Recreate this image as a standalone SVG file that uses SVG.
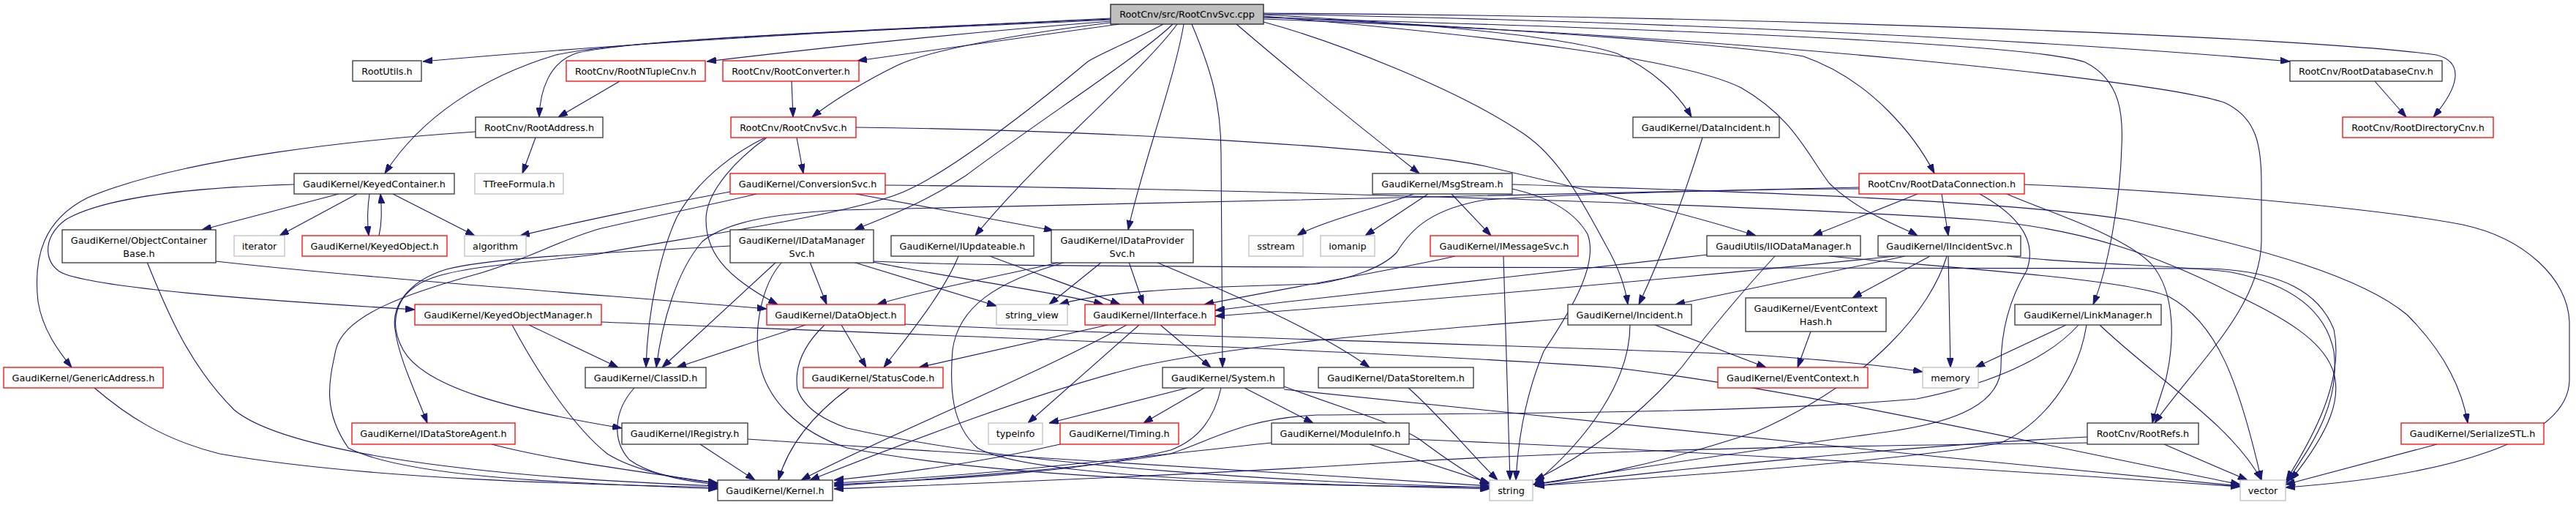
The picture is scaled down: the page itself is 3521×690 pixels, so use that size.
<svg xmlns="http://www.w3.org/2000/svg" width="3521" height="690" viewBox="0 0 3521 690">
<style>
.n rect{fill:#fff;stroke:#333;stroke-width:1.3}
.n.r rect{stroke:#f00}
.n.g rect{stroke:#bfbfbf}
.n.m rect{fill:#bfbfbf;stroke:#222}
.n text{font-family:"DejaVu Sans",sans-serif;font-size:12.8px;fill:#000;text-anchor:middle}
#edges path{fill:none;stroke:#191970;stroke-width:1.1;marker-end:url(#a)}
</style>
<defs>
<marker id="a" markerUnits="userSpaceOnUse" viewBox="0 0 13 9" markerWidth="13" markerHeight="9" refX="13" refY="4.5" orient="auto">
<path d="M0,0 L13,4.5 L0,9 z" fill="#191970" stroke="#191970" stroke-width="1"/>
</marker>
</defs>
<rect width="3521" height="690" fill="#fff"/>
<g id="edges">
<path d="M1518,25 C1250,38 900,55 578,84"/>
<path d="M1518,26 C1250,38 880,52 790,72 C750,84 738,125 737,160"/>
<path d="M1518,27 C1250,40 860,52 760,75 C660,105 575,160 526,237"/>
<path d="M1518,29 C1350,42 1150,62 966,84"/>
<path d="M1530,33 L1172,83"/>
<path d="M1518,31 C1400,45 1270,68 1225,90 C1180,112 1135,140 1110,160"/>
<path d="M1590,33 C1550,55 1510,70 1487,84 C1420,140 1300,235 1233,263 C1150,297 900,330 818,347 C740,358 640,362 590,380 C540,398 530,440 551,478 C580,530 700,560 850,585"/>
<path d="M1603,33 C1560,75 1420,165 1320,240 C1250,285 1200,300 1168,314"/>
<path d="M1609,33 C1560,100 1420,215 1333,322"/>
<path d="M1618,33 C1605,110 1560,230 1542,314"/>
<path d="M1629,33 C1655,95 1669,140 1669,210 L1671,502"/>
<path d="M1690,33 C1780,110 1880,190 1940,237"/>
<path d="M1727,20 C1900,30 2120,45 2210,73 C2260,95 2295,130 2312,160"/>
<path d="M1727,30 C1820,55 1990,120 2083,183 C2130,215 2160,270 2195,335 C2215,370 2222,395 2225,416"/>
<path d="M1727,22 C2050,50 2300,80 2380,120 C2450,160 2470,210 2500,250 C2540,290 2600,310 2621,322"/>
<path d="M1727,23 C2100,40 2400,65 2465,77 C2560,110 2620,190 2644,237"/>
<path d="M1727,19 C2300,30 2800,55 3130,84"/>
<path d="M1727,18 C2400,22 3150,50 3330,75 C3370,85 3360,120 3326,160"/>
<path d="M1727,24 C2300,40 2780,60 2850,85 C2900,110 2902,160 2900,200 C2898,280 2880,370 2861,416"/>
<path d="M1727,26 C2400,50 2950,110 3040,140 C3085,160 3091,200 3091,250 L3091,330 C3090,420 3000,500 2945,578"/>
<path d="M847,111 L763,160"/>
<path d="M1082,111 L1084,160"/>
<path d="M732,188 L714,237"/>
<path d="M650,180 C500,190 250,215 120,270 C60,300 45,350 52,412 C58,450 80,480 98,502"/>
<path d="M1089,188 L1098,237"/>
<path d="M1170,174 C1500,178 1900,200 2030,227 C2150,255 2300,290 2400,322"/>
<path d="M1046,188 C1000,210 950,250 925,297 C905,340 885,420 883,502"/>
<path d="M1048,188 C1010,215 965,260 965,300 C965,340 985,375 1063,416"/>
<path d="M463,265 L276,314"/>
<path d="M488,265 L382,322"/>
<path d="M505,265 C502,285 502,305 504,322"/>
<path d="M518,322 C522,305 522,285 520,265"/>
<path d="M537,265 L649,322"/>
<path d="M402,252 C300,255 150,265 90,300 C55,325 60,365 90,375 C150,395 350,410 567,423"/>
<path d="M998,262 C900,280 780,305 711,322"/>
<path d="M1170,265 L1440,315"/>
<path d="M1210,253 C1700,258 2400,280 2700,300 C2850,312 2950,350 3050,400 C3200,470 3240,520 3131,656"/>
<path d="M1034,265 C950,285 870,300 818,313 C760,330 720,355 650,375 C560,400 470,430 459,478 C450,520 440,560 476,612 C560,655 800,660 981,668"/>
<path d="M998,336 C850,345 680,350 610,368 C555,385 535,420 540,450 C545,490 570,540 584,578"/>
<path d="M2541,256 C2200,262 1700,275 1150,287 C1050,292 990,305 960,330 C925,370 905,440 897,502"/>
<path d="M295,357 C500,380 850,405 1048,422"/>
<path d="M201,358 C230,430 260,500 320,560 C380,610 600,650 981,664"/>
<path d="M129,530 C170,565 220,600 300,620 C500,655 800,662 981,666"/>
<path d="M672,607 C760,630 880,645 981,660"/>
<path d="M723,444 L845,502"/>
<path d="M700,444 C730,500 780,580 830,620 C870,645 930,655 981,660"/>
<path d="M822,440 C1200,455 1900,480 2202,502 C2450,530 2800,610 3062,662"/>
<path d="M867,530 C840,560 835,600 860,628 C890,650 940,658 981,662"/>
<path d="M1061,358 L905,502"/>
<path d="M1069,358 C1040,390 1030,450 1038,495 C1048,545 1090,590 1158,612 C1400,660 1800,663 2036,666"/>
<path d="M1107,358 L1130,416"/>
<path d="M1166,358 L1362,418"/>
<path d="M1193,358 C1300,380 1450,400 1508,416"/>
<path d="M1310,350 C1290,400 1240,460 1208,502"/>
<path d="M1353,350 C1420,375 1490,400 1531,416"/>
<path d="M1451,358 C1350,380 1250,400 1199,416"/>
<path d="M1457,358 C1360,385 1310,420 1302,478 C1298,530 1300,580 1336,612 C1400,650 1700,660 2036,668"/>
<path d="M1506,358 L1434,416"/>
<path d="M1543,358 L1563,416"/>
<path d="M1580,358 C1680,400 1800,450 1872,502"/>
<path d="M1194,357 C1300,362 1400,363 1800,365 C2300,366 2700,366 3022,367 C3120,371 3170,400 3190,450 C3205,520 3160,600 3125,656"/>
<path d="M1101,444 L925,502"/>
<path d="M1127,444 C1100,470 1085,500 1090,532 C1100,560 1130,575 1158,585 C1400,640 1800,660 2036,666"/>
<path d="M1150,444 L1184,502"/>
<path d="M1237,443 C1600,460 2100,472 2400,485 C2500,492 2580,500 2628,508"/>
<path d="M1161,530 C1120,560 1080,600 1064,656"/>
<path d="M1514,444 L1256,502"/>
<path d="M1540,444 C1400,520 1200,600 1095,656"/>
<path d="M1557,444 L1405,578"/>
<path d="M1586,444 L1655,502"/>
<path d="M1989,350 C1900,370 1750,395 1646,416"/>
<path d="M2334,348 C2150,370 1900,395 1661,424"/>
<path d="M2590,350 C2300,380 1950,410 1661,432"/>
<path d="M1623,530 L1434,578"/>
<path d="M1646,530 L1563,578"/>
<path d="M1669,530 C1660,570 1640,600 1600,615 C1480,645 1300,655 1140,662"/>
<path d="M1701,530 L1795,578"/>
<path d="M1755,528 C1840,560 1900,575 1940,600 C1980,630 2010,650 2036,662"/>
<path d="M1755,532 C2000,560 2600,620 3062,664"/>
<path d="M1449,607 C1350,630 1250,645 1140,656"/>
<path d="M1738,605 C1550,625 1350,650 1140,660"/>
<path d="M1872,607 L2036,660"/>
<path d="M1926,600 C2300,615 2700,640 3062,665"/>
<path d="M1925,530 C1970,570 2010,620 2047,656"/>
<path d="M1952,265 L1866,322"/>
<path d="M1932,265 C1880,285 1800,305 1773,322"/>
<path d="M1984,265 L2038,322"/>
<path d="M2067,258 C2110,268 2150,285 2170,320 C2185,360 2150,420 2110,480 C2085,540 2075,600 2072,656"/>
<path d="M2067,252 C2400,262 2750,275 2907,300 C3100,340 3230,380 3290,430 C3340,480 3365,530 3373,578"/>
<path d="M2055,350 L2064,656"/>
<path d="M2327,188 C2305,260 2280,330 2240,416"/>
<path d="M2228,444 C2228,520 2170,600 2098,660"/>
<path d="M2262,444 L2414,502"/>
<path d="M2143,435 C1900,455 1700,470 1560,500 C1400,540 1200,620 1107,656"/>
<path d="M2621,265 L2478,322"/>
<path d="M2654,265 L2663,322"/>
<path d="M2743,265 C2800,290 2900,320 2940,360 C2975,400 2972,470 2960,520 C2950,550 2945,565 2942,578"/>
<path d="M2706,265 C2760,295 2785,330 2770,370 C2740,420 2735,470 2735,500 C2735,560 2650,580 2580,590 C2400,615 2200,645 2095,662"/>
<path d="M2767,252 C3000,262 3250,285 3366,307 C3450,325 3510,380 3512,440 L3512,520 C3510,600 3350,650 3124,666"/>
<path d="M2541,258 C2400,258 2150,265 2030,273 C1960,285 1930,310 1909,345 C1890,365 1850,380 1800,388 C1600,393 1500,400 1448,416"/>
<path d="M2426,350 C2380,400 2330,460 2300,500 C2240,570 2170,620 2098,656"/>
<path d="M2500,350 C2650,365 2900,380 2964,405 C3030,440 3060,520 3091,656"/>
<path d="M2604,350 L2290,416"/>
<path d="M2638,350 L2532,407"/>
<path d="M2663,350 L2666,502"/>
<path d="M2661,350 C2640,420 2560,520 2400,590 C2250,640 2150,655 2098,662"/>
<path d="M2743,350 C2850,362 2980,362 3050,372 C3140,390 3180,430 3190,480 C3200,560 3150,620 3125,660"/>
<path d="M2475,453 L2457,502"/>
<path d="M2824,444 L2700,502"/>
<path d="M2841,444 C2800,490 2720,525 2620,545 C2400,565 2000,565 1800,567 C1700,572 1660,600 1600,620 C1450,645 1250,655 1140,664"/>
<path d="M2852,444 C2840,520 2790,580 2735,605 C2600,630 2300,650 2098,664"/>
<path d="M2870,444 C2950,520 3050,580 3091,656"/>
<path d="M2958,607 L3072,656"/>
<path d="M2853,597 C2600,610 2300,640 2098,664"/>
<path d="M2853,605 C2500,610 2202,612 1800,638 C1500,655 1300,662 1140,668"/>
<path d="M3331,607 L3124,662"/>
<path d="M3246,111 L3289,160"/>
<path d="M957,607 L1032,656"/>
<path d="M1022,600 C1400,625 1800,650 2036,664"/>
</g>
<g id="n_main" class="n m"><rect x="1518" y="6" width="209" height="27"/><text x="1622.5" y="24">RootCnv/src/RootCnvSvc.cpp</text></g>
<g id="n_rootutils" class="n"><rect x="482" y="83" width="94" height="28"/><text x="529" y="101.5">RootUtils.h</text></g>
<g id="n_ntuplecnv" class="n r"><rect x="774" y="83" width="190" height="28"/><text x="869" y="101.5">RootCnv/RootNTupleCnv.h</text></g>
<g id="n_converter" class="n r"><rect x="988" y="83" width="186" height="28"/><text x="1081" y="101.5">RootCnv/RootConverter.h</text></g>
<g id="n_databasecnv" class="n"><rect x="3130" y="83" width="208" height="28"/><text x="3234" y="101.5">RootCnv/RootDatabaseCnv.h</text></g>
<g id="n_rootaddress" class="n"><rect x="650" y="160" width="174" height="28"/><text x="737" y="178.5">RootCnv/RootAddress.h</text></g>
<g id="n_rootcnvsvc" class="n r"><rect x="999" y="160" width="171" height="28"/><text x="1084.5" y="178.5">RootCnv/RootCnvSvc.h</text></g>
<g id="n_dataincident" class="n"><rect x="2232" y="160" width="200" height="28"/><text x="2332" y="178.5">GaudiKernel/DataIncident.h</text></g>
<g id="n_directorycnv" class="n r"><rect x="3202" y="160" width="206" height="28"/><text x="3305" y="178.5">RootCnv/RootDirectoryCnv.h</text></g>
<g id="n_keyedcontainer" class="n"><rect x="402" y="237" width="219" height="28"/><text x="511.5" y="255.5">GaudiKernel/KeyedContainer.h</text></g>
<g id="n_ttreeformula" class="n g"><rect x="649" y="237" width="121" height="28"/><text x="709.5" y="255.5">TTreeFormula.h</text></g>
<g id="n_conversionsvc" class="n r"><rect x="998" y="237" width="212" height="28"/><text x="1104" y="255.5">GaudiKernel/ConversionSvc.h</text></g>
<g id="n_msgstream" class="n"><rect x="1876" y="237" width="191" height="28"/><text x="1971.5" y="255.5">GaudiKernel/MsgStream.h</text></g>
<g id="n_dataconnection" class="n r"><rect x="2541" y="237" width="226" height="28"/><text x="2654" y="255.5">RootCnv/RootDataConnection.h</text></g>
<g id="n_objcontainerbase" class="n"><rect x="85" y="314" width="210" height="45"/><text x="190" y="333">GaudiKernel/ObjectContainer</text><text x="190" y="350.5">Base.h</text></g>
<g id="n_iterator" class="n g"><rect x="320" y="322" width="69" height="28"/><text x="354.5" y="340.5">iterator</text></g>
<g id="n_keyedobject" class="n r"><rect x="413" y="322" width="198" height="28"/><text x="512" y="340.5">GaudiKernel/KeyedObject.h</text></g>
<g id="n_algorithm" class="n g"><rect x="635" y="322" width="84" height="28"/><text x="677" y="340.5">algorithm</text></g>
<g id="n_idatamanagersvc" class="n"><rect x="998" y="314" width="196" height="45"/><text x="1096" y="333">GaudiKernel/IDataManager</text><text x="1096" y="350.5">Svc.h</text></g>
<g id="n_iupdateable" class="n"><rect x="1218" y="322" width="195" height="28"/><text x="1315.5" y="340.5">GaudiKernel/IUpdateable.h</text></g>
<g id="n_idataprovidersvc" class="n"><rect x="1437" y="314" width="194" height="45"/><text x="1534" y="333">GaudiKernel/IDataProvider</text><text x="1534" y="350.5">Svc.h</text></g>
<g id="n_sstream" class="n g"><rect x="1707" y="322" width="74" height="28"/><text x="1744" y="340.5">sstream</text></g>
<g id="n_iomanip" class="n g"><rect x="1805" y="322" width="74" height="28"/><text x="1842" y="340.5">iomanip</text></g>
<g id="n_imessagesvc" class="n r"><rect x="1955" y="322" width="202" height="28"/><text x="2056" y="340.5">GaudiKernel/IMessageSvc.h</text></g>
<g id="n_iiodatamanager" class="n"><rect x="2333" y="322" width="210" height="28"/><text x="2438" y="340.5">GaudiUtils/IIODataManager.h</text></g>
<g id="n_iincidentsvc" class="n"><rect x="2567" y="322" width="195" height="28"/><text x="2664.5" y="340.5">GaudiKernel/IIncidentSvc.h</text></g>
<g id="n_keyedobjectmanager" class="n r"><rect x="567" y="416" width="255" height="28"/><text x="694.5" y="434.5">GaudiKernel/KeyedObjectManager.h</text></g>
<g id="n_dataobject" class="n r"><rect x="1048" y="416" width="189" height="28"/><text x="1142.5" y="434.5">GaudiKernel/DataObject.h</text></g>
<g id="n_string_view" class="n g"><rect x="1362" y="416" width="97" height="28"/><text x="1410.5" y="434.5">string_view</text></g>
<g id="n_iinterface" class="n r"><rect x="1483" y="416" width="178" height="28"/><text x="1572" y="434.5">GaudiKernel/IInterface.h</text></g>
<g id="n_incident" class="n"><rect x="2143" y="416" width="169" height="28"/><text x="2227.5" y="434.5">GaudiKernel/Incident.h</text></g>
<g id="n_eventcontexthash" class="n"><rect x="2386" y="407" width="192" height="46"/><text x="2482" y="426">GaudiKernel/EventContext</text><text x="2482" y="443.5">Hash.h</text></g>
<g id="n_linkmanager" class="n"><rect x="2754" y="416" width="200" height="28"/><text x="2854" y="434.5">GaudiKernel/LinkManager.h</text></g>
<g id="n_genericaddress" class="n r"><rect x="5" y="502" width="218" height="28"/><text x="114" y="520.5">GaudiKernel/GenericAddress.h</text></g>
<g id="n_classid" class="n"><rect x="800" y="502" width="165" height="28"/><text x="882.5" y="520.5">GaudiKernel/ClassID.h</text></g>
<g id="n_statuscode" class="n r"><rect x="1098" y="502" width="191" height="28"/><text x="1193.5" y="520.5">GaudiKernel/StatusCode.h</text></g>
<g id="n_system" class="n"><rect x="1589" y="502" width="166" height="28"/><text x="1672" y="520.5">GaudiKernel/System.h</text></g>
<g id="n_datastoreitem" class="n"><rect x="1802" y="502" width="212" height="28"/><text x="1908" y="520.5">GaudiKernel/DataStoreItem.h</text></g>
<g id="n_eventcontext" class="n r"><rect x="2348" y="502" width="205" height="28"/><text x="2450.5" y="520.5">GaudiKernel/EventContext.h</text></g>
<g id="n_memory" class="n g"><rect x="2628" y="502" width="76" height="28"/><text x="2666" y="520.5">memory</text></g>
<g id="n_idatastoreagent" class="n r"><rect x="481" y="578" width="223" height="29"/><text x="592.5" y="597">GaudiKernel/IDataStoreAgent.h</text></g>
<g id="n_iregistry" class="n"><rect x="850" y="578" width="172" height="29"/><text x="936" y="597">GaudiKernel/IRegistry.h</text></g>
<g id="n_typeinfo" class="n g"><rect x="1351" y="578" width="74" height="29"/><text x="1388" y="597">typeinfo</text></g>
<g id="n_timing" class="n r"><rect x="1449" y="578" width="162" height="29"/><text x="1530" y="597">GaudiKernel/Timing.h</text></g>
<g id="n_moduleinfo" class="n"><rect x="1738" y="578" width="188" height="29"/><text x="1832" y="597">GaudiKernel/ModuleInfo.h</text></g>
<g id="n_rootrefs" class="n"><rect x="2853" y="578" width="152" height="29"/><text x="2929" y="597">RootCnv/RootRefs.h</text></g>
<g id="n_serializestl" class="n r"><rect x="3282" y="578" width="195" height="29"/><text x="3379.5" y="597">GaudiKernel/SerializeSTL.h</text></g>
<g id="n_kernel" class="n"><rect x="981" y="656" width="157" height="28"/><text x="1059.5" y="674.5">GaudiKernel/Kernel.h</text></g>
<g id="n_string" class="n g"><rect x="2036" y="656" width="59" height="28"/><text x="2065.5" y="674.5">string</text></g>
<g id="n_vector" class="n g"><rect x="3062" y="656" width="62" height="28"/><text x="3093" y="674.5">vector</text></g>
</svg>
